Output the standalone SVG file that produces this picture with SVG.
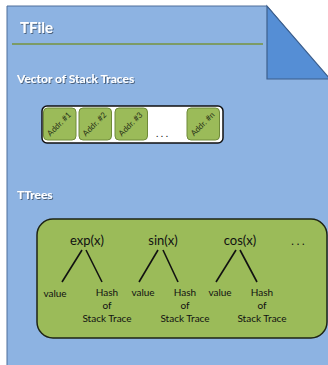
<svg xmlns="http://www.w3.org/2000/svg" width="328" height="365" viewBox="0 0 328 365">
<defs>
<filter id="sh" x="-10%" y="-30%" width="130%" height="160%">
<feDropShadow dx="1" dy="1" stdDeviation="0.6" flood-color="#000" flood-opacity="0.45"/>
</filter>
<style>
.hd{font-family:Lato,"Liberation Sans",sans-serif;font-weight:bold;fill:#fff;filter:url(#sh)}
.cell{fill:#9bbb59;stroke:#6f8a3a;stroke-width:1}
.ct{font-family:Lato,"Liberation Sans",sans-serif;font-size:8px;fill:#2a3318;text-anchor:middle}
.fn{font-family:Lato,"Liberation Sans",sans-serif;font-size:13px;fill:#111;text-anchor:middle}
.lb{font-family:Lato,"Liberation Sans",sans-serif;font-size:10px;fill:#111;text-anchor:middle}
.ln{stroke:#111;stroke-width:1.6;fill:none}
</style>
</defs>
<rect width="328" height="365" fill="#fff"/>
<g id="page">
<polygon points="7,6 267,6 330,80 330,367 7,367" fill="#8db3e2" stroke="#4f6f9a" stroke-width="1"/>
<polygon points="267,6 267,79 330,79" fill="#558ed5" stroke="#3d5f8c" stroke-width="1.2"/>
<line x1="12" y1="44" x2="263" y2="44" stroke="#77933c" stroke-width="1.5"/>
<text class="hd" x="20" y="33" font-size="15">TFile</text>
</g>
<g id="vector">
<text class="hd" x="17" y="83" font-size="12">Vector of Stack Traces</text>
<rect x="42" y="106" width="181" height="37" rx="5" fill="#fff" stroke="#111" stroke-width="1.5"/>
<g id="addr1"><rect class="cell" x="43.5" y="108" width="32.5" height="32" rx="4"/><text class="ct" transform="translate(61,126) rotate(-45)">Addr. #1</text></g>
<g id="addr2"><rect class="cell" x="79" y="108" width="32.5" height="32" rx="4"/><text class="ct" transform="translate(96.5,126) rotate(-45)">Addr. #2</text></g>
<g id="addr3"><rect class="cell" x="115" y="108" width="32.5" height="32" rx="4"/><text class="ct" transform="translate(132.5,126) rotate(-45)">Addr. #3</text></g>
<text x="162" y="137" font-family="Lato,'Liberation Sans',sans-serif" font-size="10" fill="#111" text-anchor="middle">. . .</text>
<g id="addrn"><rect class="cell" x="187" y="108" width="32.5" height="32" rx="4"/><text class="ct" transform="translate(204.5,126) rotate(-45)">Addr. #n</text></g>
</g>
<g id="ttrees">
<text class="hd" x="17" y="199" font-size="12">TTrees</text>
<rect x="37" y="219" width="290" height="119" rx="16" fill="#9bbb59" stroke="#1e2414" stroke-width="1.5"/>
</g>
<g id="connectors">
<line class="ln" x1="82" y1="250" x2="62" y2="282"/>
<line class="ln" x1="86" y1="250" x2="102" y2="282"/>
<line class="ln" x1="158" y1="250" x2="139" y2="282"/>
<line class="ln" x1="163" y1="250" x2="178" y2="282"/>
<line class="ln" x1="236" y1="250" x2="216" y2="282"/>
<line class="ln" x1="240" y1="250" x2="257" y2="282"/>
</g>
<g id="exp">
<text class="fn" x="87" y="245">exp(x)</text>
<text class="lb" x="55" y="297">value</text>
<text class="lb" x="107" y="296">Hash</text>
<text class="lb" x="107" y="309">of</text>
<text class="lb" x="107" y="322">Stack Trace</text>
</g>
<g id="sin">
<text class="fn" x="163" y="245">sin(x)</text>
<text class="lb" x="143" y="296">value</text>
<text class="lb" x="185" y="296">Hash</text>
<text class="lb" x="185" y="309">of</text>
<text class="lb" x="185" y="322">Stack Trace</text>
</g>
<g id="cos">
<text class="fn" x="240" y="245">cos(x)</text>
<text class="lb" x="220" y="296">value</text>
<text class="lb" x="262" y="296">Hash</text>
<text class="lb" x="262" y="309">of</text>
<text class="lb" x="262" y="322">Stack Trace</text>
</g>
<text x="298" y="245" font-family="Lato,'Liberation Sans',sans-serif" font-size="11" fill="#111" text-anchor="middle">. . .</text>
</svg>
